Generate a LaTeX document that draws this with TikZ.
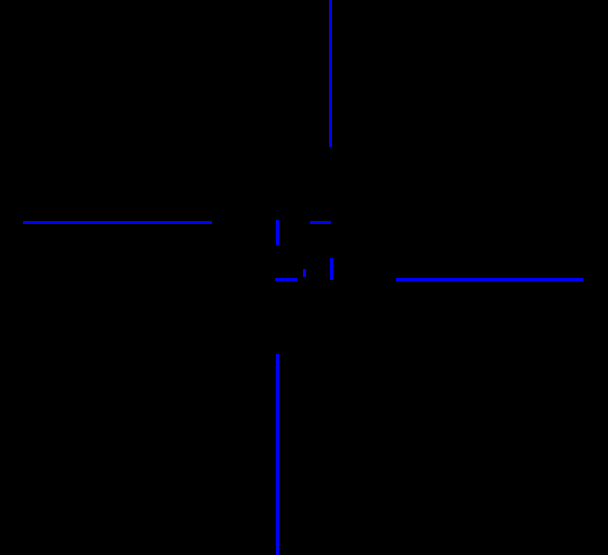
\documentclass[tikz,border=0pt]{standalone}
\tikzstyle{wire} = [draw,blue,line width=3pt]
\tikzstyle{backdrop} = [fill=black]

\begin{document}
\begin{tikzpicture}[x=1pt, y=-1pt]
    % First the black backdrop, which also fixes the size
    \path[backdrop] (0,0) rectangle (608,555);
    \useasboundingbox (0,0) rectangle (608,555);
    % End points of the wire pieces
    \foreach \pos/\name in {{(330,0)/ntop}, {(330,147)/nbot}, {(23,222)/wleft}, {(212,222)/wright}, {(583,279)/eright}, {(396,279)/eleft}, {(277,555)/sbot}, {(277,354)/stop}, {(277,220)/ca}, {(277,245)/cb}, {(310,222)/cc}, {(331,222)/cd}, {(331,258)/ce}, {(331,280)/cf}, {(275,279)/cg}, {(297,279)/ch}, {(304,269)/ci}, {(304,277)/cj}}
        \path \pos coordinate (\name);
    % Connect the end points with wires
    \foreach \source/\dest in {ntop/nbot, wleft/wright, eleft/eright, stop/sbot, ca/cb, cc/cd, ce/cf, cg/ch, ci/cj}
        \path[wire] (\source) -- (\dest);
\end{tikzpicture}
\end{document}
